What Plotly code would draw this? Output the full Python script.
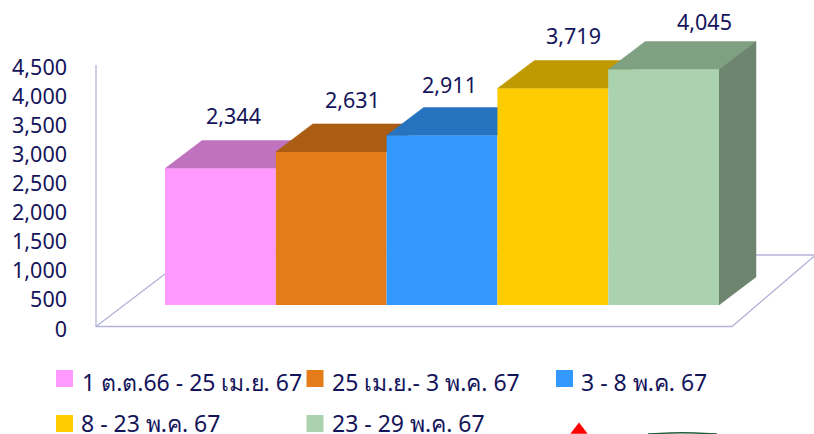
import plotly.graph_objects as go

periods = ["1 ต.ต.66 - 25 เม.ย. 67", "25 เม.ย.- 3 พ.ค. 67", "3 - 8 พ.ค. 67", "8 - 23 พ.ค. 67", "23 - 29 พ.ค. 67"]
values = [2344, 2631, 2911, 3719, 4045]
tick_vals = [0, 500, 1000, 1500, 2000, 2500, 3000, 3500, 4000, 4500]
front_colors = ["#FF99FF", "#E47C1A", "#3399FF", "#FFCC00", "#ABD2AE"]
top_colors = ["#BF73BF", "#AB5D13", "#2673BF", "#BF9900", "#80A082"]
side_color = "#6D856F"
NAVY = "#14145A"
AXC = "#B3B3D9"
FONT = "Noto Sans, Tahoma, sans-serif"

W, H = 814, 434
PPU = 0.0582          # px per value unit
Y0 = 327              # px of value 0
BAR_W = 110.8
X_C0 = 220.4          # px of first bar centre
AX_L = 96

def xd(px): return (px - X_C0) / BAR_W
def yd(py): return (Y0 - py) / PPU

BASE = 22 / PPU       # the front plane sits above the axis floor
DX = 37 / BAR_W
DY = 28 / PPU

fig = go.Figure()

def line(xs, ys):
    fig.add_trace(go.Scatter(x=[xd(a) for a in xs], y=[yd(b) for b in ys], mode="lines",
                             line=dict(color=AXC, width=1.3), hoverinfo="skip", showlegend=False))

line([AX_L, AX_L], [65, 327])
line([AX_L, 732, 815], [326.5, 326.5, 255.5])
line([AX_L, 190], [326.5, 255])
line([190, 814], [255, 255])

for i, v in enumerate(values):
    top = v + BASE
    L, R = i - .5, i + .5
    fig.add_trace(go.Scatter(x=[L, L + DX, R + DX, R, L], y=[top, top + DY, top + DY, top, top],
                             mode="lines", fill="toself", fillcolor=top_colors[i],
                             line=dict(color=top_colors[i], width=0.5), hoverinfo="skip", showlegend=False))

R = len(values) - .5
last = values[-1] + BASE
fig.add_trace(go.Scatter(x=[R, R + DX, R + DX, R, R], y=[last, last + DY, BASE + DY, BASE, last],
                         mode="lines", fill="toself", fillcolor=side_color,
                         line=dict(color=side_color, width=0.5), hoverinfo="skip", showlegend=False))

fig.add_trace(go.Bar(x=list(range(len(values))), y=values, base=[BASE] * len(values), width=1,
                     marker=dict(color=front_colors, line=dict(width=0)),
                     xaxis="x2", yaxis="y2", showlegend=False, hovertemplate="%{y:,}<extra></extra>"))

# data labels
label_dx = [-5, 3, -11, 2, 22]
label_gap = [25, 24, 23, 25, 20]
for i, v in enumerate(values):
    fig.add_annotation(x=i + DX / 2, y=v + BASE + DY, text=f"{v:,}", showarrow=False, xref="x", yref="y",
                       xshift=label_dx[i], yshift=label_gap[i],
                       font=dict(family=FONT, size=21.5, color=NAVY))

# legend
leg_x = [64.5, 315, 564.5, 64.5, 315]
leg_y = [378.5, 378.5, 378.5, 423.5, 423.5]
leg_text_x = [80, 330, 579, 79, 330]
leg_text_y = [382, 382, 382, 423, 423]
for i, name in enumerate(periods):
    fig.add_trace(go.Scatter(x=[xd(leg_x[i])], y=[yd(leg_y[i])], mode="markers",
                             marker=dict(symbol="square", size=17, color=front_colors[i]),
                             hoverinfo="skip", showlegend=False, cliponaxis=False))
    fig.add_annotation(x=xd(leg_text_x[i]), y=yd(leg_text_y[i]), text=name, showarrow=False,
                       xref="x", yref="y", xanchor="left", yanchor="middle",
                       font=dict(family=FONT, size=23, color=NAVY))

# clipped decoration at the bottom edge
fig.add_trace(go.Scatter(x=[xd(579)], y=[yd(430)], mode="markers",
                         marker=dict(symbol="triangle-up", size=15, color="#FF0000"),
                         hoverinfo="skip", showlegend=False))
fig.add_trace(go.Scatter(x=[xd(p) for p in (648, 670, 695, 717)], y=[yd(p) for p in (434, 433, 433, 434)],
                         mode="lines", line=dict(color="#1F5A3C", width=1.5, shape="spline"),
                         hoverinfo="skip", showlegend=False))

xr = [xd(0), xd(W)]
yr = [yd(H), yd(0)]
fig.update_layout(
    width=W, height=H, margin=dict(l=0, r=0, t=0, b=0, autoexpand=False),
    paper_bgcolor="white", plot_bgcolor="white",
    xaxis=dict(range=xr, visible=False, fixedrange=True),
    yaxis=dict(range=yr, tickmode="array", tickvals=tick_vals, tickformat=",d", showgrid=False, zeroline=False,
               showline=False, ticks="", ticklabelstandoff=29, ticklabelshift=2, anchor="free",
               position=AX_L / W, automargin=False,
               tickfont=dict(family=FONT, size=21.5, color=NAVY), fixedrange=True),
    xaxis2=dict(range=xr, visible=False, overlaying="x", fixedrange=True),
    yaxis2=dict(range=yr, visible=False, overlaying="y", fixedrange=True),
)
fig.write_html("out.html", config={"displayModeBar": False},
               post_script="document.body.style.margin='0';document.documentElement.style.overflow='hidden';")
